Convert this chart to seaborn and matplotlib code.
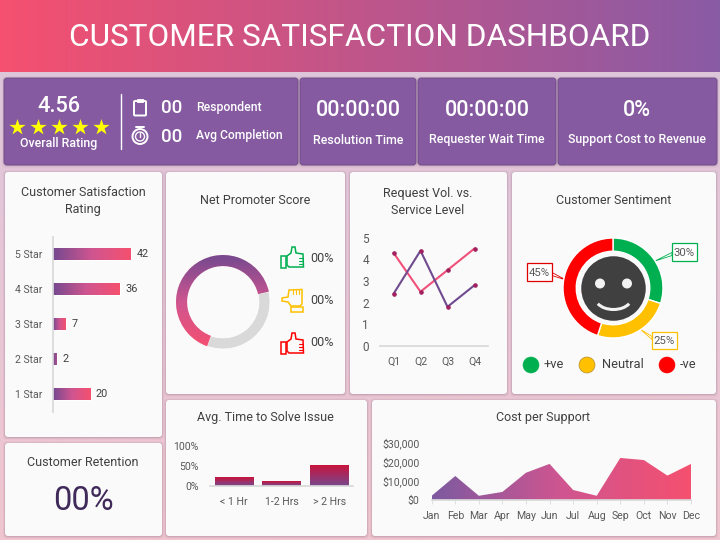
import numpy as np
import pandas as pd
import matplotlib
matplotlib.use('Agg')
import matplotlib.pyplot as plt
import seaborn as sns
from matplotlib.colors import LinearSegmentedColormap
from matplotlib.patches import FancyBboxPatch, Circle, Rectangle, Polygon, Arc

# data
rating_labels = ['5 Star', '4 Star', '3 Star', '2 Star', '1 Star']
rating_values = [42, 36, 7, 2, 20]
nps_values = [66, 34]
quarters = ['Q1', 'Q2', 'Q3', 'Q4']
request_vol = [4.3, 2.5, 3.5, 4.5]
service_level = [2.4, 4.4, 1.8, 2.8]
sentiment_values = [30, 25, 45]
sentiment_labels = ['+ve', 'Neutral', '-ve']
sentiment_colors = ['#00B050', '#FFC000', '#FF0000']
solve_labels = ['< 1 Hr', '1-2 Hrs', '> 2 Hrs']
solve_values = [22, 12, 52]
months = ['Jan', 'Feb', 'Mar', 'Apr', 'May', 'Jun', 'Jul', 'Aug', 'Sep', 'Oct', 'Nov', 'Dec']
cost_values = [2200, 12500, 2200, 4200, 14200, 18800, 5200, 2200, 21900, 20800, 12700, 18800]

PINK = '#F5506F'
PURPLE = '#75498F'
MID = '#CF5590'
GREY = '#595959'
DARK = '#404040'

sns.set_theme(style='white')
plt.rcParams['font.family'] = ['Roboto', 'DejaVu Sans']
plt.rcParams['text.color'] = DARK

fig = plt.figure(figsize=(7.2, 5.4), dpi=100)


def px_axes(x0, y0, x1, y1):
    ax = fig.add_axes([x0 / 720, 1 - y1 / 540, (x1 - x0) / 720, (y1 - y0) / 540])
    ax.patch.set_alpha(0)
    return ax


def gradient(ax, clip, extent, colors, horizontal=True, zorder=2):
    cmap = LinearSegmentedColormap.from_list('g', colors)
    g = np.linspace(0, 1, 200)
    g = g.reshape(1, -1) if horizontal else g.reshape(-1, 1)
    xl, yl = ax.get_xlim(), ax.get_ylim()
    im = ax.imshow(g, extent=extent, origin='upper', aspect='auto', cmap=cmap, zorder=zorder)
    if clip is not None:
        im.set_clip_path(clip)
    ax.set_xlim(xl)
    ax.set_ylim(yl)
    return im


# page background
bg = px_axes(0, 0, 720, 540)
bg.set_xlim(0, 720)
bg.set_ylim(540, 0)
bg.axis('off')
gradient(bg, None, (0, 720, 540, 0), ['#DCC6DC', '#F0C6D0'], horizontal=False, zorder=0)
gradient(bg, None, (0, 720, 72, 0), [PINK, '#8A5BA5'], zorder=1)
bg.text(360, 37, 'CUSTOMER SATISFACTION DASHBOARD', color='white', fontsize=22.7,
        ha='center', va='center')


def panel(x0, y0, x1, y1, color='#FAFAFA', edge='none'):
    for grow, alpha in [(2.5, 0.06), (1.5, 0.08), (0.7, 0.12)]:
        bg.add_patch(FancyBboxPatch((x0 - grow + 0.5, y0 - grow + 1), x1 - x0 + 2 * grow - 1, y1 - y0 + 2 * grow - 1,
                                    boxstyle='round,pad=0,rounding_size=4', fc='#503050', ec='none',
                                    alpha=alpha, zorder=2))
    bg.add_patch(FancyBboxPatch((x0, y0), x1 - x0, y1 - y0, boxstyle='round,pad=0,rounding_size=3',
                                fc=color, ec=edge, lw=0.6, zorder=3))


for box in [(4, 78, 298, 165), (300, 78, 416, 165), (418, 78, 556, 165), (558, 78, 717, 165)]:
    panel(*box, color='#855AA0', edge='#6E4A88')
for box in [(5, 172, 162, 437), (166, 172, 345, 394), (350, 172, 507, 394), (512, 172, 716, 394),
            (5, 443, 162, 536), (166, 400, 367, 536), (372, 400, 716, 536)]:
    panel(*box)


def label(x, y, s, size=9, color=DARK, ha='center', **kw):
    bg.text(x, y + 1, s, fontsize=size, color=color, ha=ha, va='center', zorder=6, **kw)


# kpi row
label(59, 106, '4.56', 15.7, 'white', fontweight='medium')
star_x = [17, 38, 59, 80, 101]
bg.scatter(star_x, [127] * 5, marker='*', s=150, color='#FFFF00', linewidths=0, zorder=6)
label(59, 143, 'Overall Rating', 8.9, 'white', fontweight='medium')
bg.plot([120.5, 120.5], [94, 149], color='white', lw=1, zorder=6)
label(172, 107, '00', 13.5, 'white', fontweight='medium')
label(172, 136, '00', 13.5, 'white', fontweight='medium')
label(196, 106, 'Respondent', 8.8, 'white', ha='left', fontweight='medium')
label(196, 135, 'Avg Completion', 8.7, 'white', ha='left', fontweight='medium')
bg.add_patch(FancyBboxPatch((134, 101), 12, 14.5, boxstyle='round,pad=0,rounding_size=1', fc='none', ec='white', lw=1.4, zorder=6))
bg.add_patch(Rectangle((137, 98.5), 6, 3.5, fc='white', ec='white', lw=0.6, zorder=6))
bg.add_patch(Circle((140, 136.5), 7.5, fc='none', ec='white', lw=1.4, zorder=6))
bg.add_patch(Circle((140, 136.5), 4.5, fc='none', ec='white', lw=1.0, zorder=6))
bg.plot([140, 140], [136.5, 133], color='white', lw=1, zorder=6)
bg.plot([136, 144], [127, 127], color='white', lw=1.4, zorder=6)
label(358, 110, '00:00:00', 15.5, 'white', fontweight='medium')
label(358, 139, 'Resolution Time', 8.9, 'white', fontweight='medium')
label(487, 110, '00:00:00', 15.5, 'white', fontweight='medium')
label(487, 139, 'Requester Wait Time', 8.9, 'white', fontweight='medium')
label(637, 110, '0%', 15.5, 'white', fontweight='medium')
label(637, 139, 'Support Cost to Revenue', 8.9, 'white', fontweight='medium')

# panel titles
label(83, 192, 'Customer Satisfaction')
label(83, 209, 'Rating')
label(255, 200, 'Net Promoter Score')
label(428, 192, 'Request Vol. vs.')
label(428, 209, 'Service Level')
label(614, 200, 'Customer Sentiment')
label(83, 461, 'Customer Retention')
label(265.5, 416, 'Avg. Time to Solve Issue')
label(543, 417, 'Cost per Support')
label(83, 500, '00%', 23.5, '#3F2A5A')

# satisfaction rating bars
ax = px_axes(53, 236.5, 164, 411.5)
df = pd.DataFrame({'star': rating_labels, 'count': rating_values})
sns.barplot(data=df, y='star', x='count', ax=ax, width=0.37, color=PINK, orient='h')
ax.set_xlim(0, 60)
ax.set_xlabel('')
ax.set_ylabel('')
ax.set_xticks([])
ax.tick_params(axis='y', length=0, labelsize=7.6, labelcolor=GREY, pad=8)
sns.despine(ax=ax, bottom=True, right=True, top=True)
ax.spines['left'].set_color('#D9D9D9')
ax.bar_label(ax.containers[0], padding=4, fontsize=7.8, color=DARK)
for bar in ax.containers[0]:
    x0, y0, w, h = bar.get_bbox().bounds
    # short bars only show the start of the ramp
    end = max(w, 7)
    gradient(ax, bar, (x0, x0 + end, y0 + h, y0), [PURPLE, MID, PINK])

# NPS donut
ax = px_axes(163, 242, 283, 362)
wedges, _ = ax.pie(nps_values, startangle=12.7, radius=1, colors=[PINK, '#D9D9D9'],
                   wedgeprops=dict(width=0.235, edgecolor='white', linewidth=0.5))
ax.set_xlim(-1.277, 1.277)
ax.set_ylim(-1.277, 1.277)
gradient(ax, wedges[0], (-1, 1, -1, 1), [PURPLE, MID, PINK], horizontal=False)


def thumb(cx, cy, color, rot=0):
    outline = np.array([[-5, 4], [-5, -2], [-1, -5], [0, -11], [3, -11], [4, -5], [11, -4], [11.5, 9], [-3, 9], [-5, 7]], float)
    cuff = np.array([[-11, -2], [-6, -2], [-6, 10], [-11, 10]], float)
    fingers = [[[7, -0.5], [11, -0.5]], [[7, 2.5], [11, 2.5]], [[7, 5.5], [11, 5.5]]]
    a = np.radians(rot)
    rotm = np.array([[np.cos(a), -np.sin(a)], [np.sin(a), np.cos(a)]])
    for pts in (outline, cuff):
        bg.add_patch(Polygon(pts @ rotm.T + [cx, cy], closed=True, fc='none', ec=color, lw=1.1, zorder=6))
    for seg in fingers:
        seg = np.array(seg) @ rotm.T + [cx, cy]
        bg.plot(seg[:, 0], seg[:, 1], color=color, lw=0.8, zorder=6)


thumb(292, 258, '#00B050')
thumb(293, 301, '#FFC000', rot=-90)
thumb(292, 344, '#FF0000')
label(310, 257, '00%', 9, ha='left')
label(310, 300, '00%', 9, ha='left')
label(310, 342, '00%', 9, ha='left')

# request volume lines
ax = px_axes(380, 237.7, 488, 345.7)
line_df = pd.DataFrame({'q': quarters * 2, 'v': request_vol + service_level,
                        's': ['vol'] * 4 + ['svc'] * 4})
sns.lineplot(data=line_df, x='q', y='v', hue='s', palette={'vol': '#F0507A', 'svc': '#6F4A8E'},
             ax=ax, legend=False, lw=1.5, marker='o', markersize=2.5, markerfacecolor='#A0205F',
             markeredgecolor='#A0205F')
ax.set_xlim(-0.5, 3.5)
ax.set_ylim(0, 5)
ax.set_yticks(range(6))
ax.set_xlabel('')
ax.set_ylabel('')
ax.tick_params(axis='x', length=0, labelsize=7.6, labelcolor=GREY, pad=8)
ax.tick_params(axis='y', length=0, labelsize=8.5, labelcolor=GREY, pad=8)
sns.despine(ax=ax, left=True)
ax.spines['bottom'].set_color('#D9D9D9')

# sentiment donut
ax = px_axes(553, 228, 673, 348)
ax.pie(sentiment_values, startangle=90, counterclock=False, colors=sentiment_colors, radius=1,
       wedgeprops=dict(width=0.265))
ax.set_xlim(-1.2, 1.2)
ax.set_ylim(-1.2, 1.2)
ax.add_patch(Circle((0.01, -0.01), 0.645, fc=DARK, ec='none', zorder=4))
ax.add_patch(Circle((-0.26, 0.09), 0.1, fc='#F2F2F2', ec='none', zorder=5))
ax.add_patch(Circle((0.28, 0.09), 0.1, fc='#F2F2F2', ec='none', zorder=5))
ax.add_patch(Arc((0.01, -0.2), 0.72, 0.46, theta1=200, theta2=340, ec='#F2F2F2', lw=2.2, zorder=5))

callouts = [('30%', 672, 243, 697, 261, sentiment_colors[0], (655, 261), (672, 254)),
            ('45%', 527, 263, 552, 281, '#E00000', (566, 280), (552, 274)),
            ('25%', 652, 332, 677, 349, sentiment_colors[1], (640, 329), (652, 338))]
for s, x0, y0, x1, y1, c, tip, root in callouts:
    bg.add_patch(Polygon([tip, (root[0], root[1] - 1.5), (root[0], root[1] + 1.5)], fc='white', ec=c, lw=0.6, zorder=6))
    bg.add_patch(Rectangle((x0, y0), x1 - x0, y1 - y0, fc='white', ec=c, lw=0.9, zorder=6))
    label((x0 + x1) / 2, (y0 + y1) / 2, s, 8.2, GREY)

legend_x = [531, 587, 667]
text_x = [544, 602, 680]
for cx, tx, c, s in zip(legend_x, text_x, sentiment_colors, sentiment_labels):
    bg.add_patch(Circle((cx, 365), 8, fc=c, ec='#A08020' if c == '#FFC000' else c, lw=0.4, zorder=6))
    label(tx, 364, s, 9.3, ha='left')

# time to solve bars
ax = px_axes(210, 446, 353, 486)
df = pd.DataFrame({'t': solve_labels, 'v': solve_values})
sns.barplot(data=df, x='t', y='v', ax=ax, width=0.8, color=PURPLE)
ax.set_ylim(0, 100)
ax.set_yticks([0, 50, 100])
ax.set_yticklabels(['0%', '50%', '100%'])
ax.set_xlabel('')
ax.set_ylabel('')
ax.tick_params(axis='both', length=0, labelsize=7.6, labelcolor=GREY)
ax.tick_params(axis='x', pad=8)
ax.tick_params(axis='y', pad=8)
sns.despine(ax=ax, left=True)
ax.spines['bottom'].set_color('#D9D9D9')
for bar in ax.containers[0]:
    x0, y0, w, h = bar.get_bbox().bounds
    gradient(ax, bar, (x0, x0 + w, y0, y0 + h), ['#C8143C', PURPLE], horizontal=False)

# cost area
ax = px_axes(431.7, 442.4, 691, 500)
area = pd.DataFrame({'m': months, 'c': cost_values})
sns.lineplot(data=area, x='m', y='c', ax=ax, color=PINK, lw=0, legend=False)
ax.set_xlim(0, 11)
ax.set_ylim(0, 30000)
fill = ax.fill_between(range(12), cost_values, 0, color='none', lw=0)
im = gradient(ax, None, (0, 11, 0, 30000), ['#7D5AA0', MID, PINK])
im.set_clip_path(fill.get_paths()[0], ax.transData)
ax.set_yticks([0, 10000, 20000, 30000])
ax.set_yticklabels(['$0', '$10,000', '$20,000', '$30,000'])
ax.set_xlabel('')
ax.set_ylabel('')
ax.tick_params(axis='y', length=0, labelsize=7.6, labelcolor=GREY, pad=9)
ax.tick_params(axis='x', length=3, width=0.6, color='#D9D9D9', labelsize=7.6, labelcolor=GREY, pad=5, bottom=True)
for sp in ax.spines.values():
    sp.set_visible(False)
ax.spines['bottom'].set_visible(True)
ax.spines['bottom'].set_color('#D9D9D9')

fig.savefig('out.png', dpi=100)
